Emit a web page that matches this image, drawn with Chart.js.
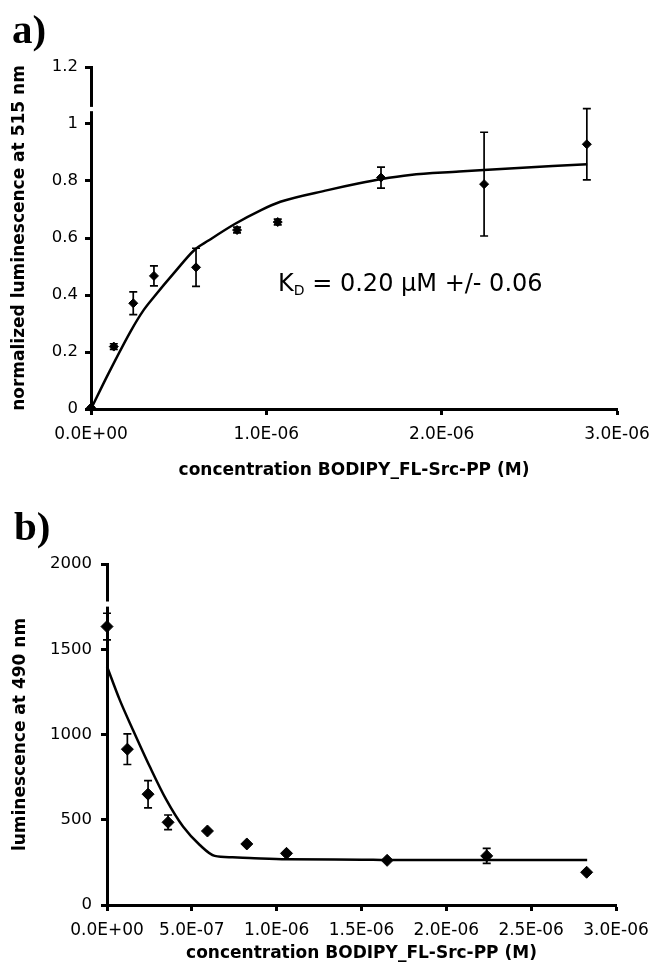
<!DOCTYPE html>
<html><head><meta charset="utf-8">
<script src="https://cdn.jsdelivr.net/npm/chart.js@4/dist/chart.umd.min.js"></script>
<style>
html,body{margin:0;padding:0;background:#fff;}
#wrap{position:relative;width:652px;height:971px;overflow:hidden;}
.pn{position:absolute;left:0;}
</style></head><body>
<div id="wrap">
<div class="pn" style="top:0"><canvas id="ca" width="652" height="485"></canvas></div>
<div class="pn" style="top:485px"><canvas id="cb" width="652" height="486"></canvas></div>
</div>
<script>
// ---------- Panel a data ----------
const concA = [0, 0.13e-6, 0.241e-6, 0.359e-6, 0.599e-6, 0.833e-6, 1.065e-6, 1.654e-6, 2.242e-6, 2.828e-6];
const lumA  = [0.005, 0.219, 0.371, 0.467, 0.497, 0.628, 0.656, 0.812, 0.789, 0.929];
const errA  = [0, 0.01, 0.04, 0.035, 0.067, 0.01, 0.01, 0.037, 0.182, 0.125];
const fitXA = [0, 0.10e-6, 0.23e-6, 0.30e-6, 0.36e-6, 0.48e-6, 0.59e-6, 0.67e-6, 0.82e-6, 0.97e-6, 1.08e-6, 1.35e-6, 1.53e-6, 1.65e-6, 1.82e-6, 2.10e-6, 2.24e-6, 2.83e-6];
const fitYA = [0, 0.125, 0.277, 0.347, 0.394, 0.482, 0.558, 0.591, 0.649, 0.698, 0.727, 0.768, 0.792, 0.806, 0.821, 0.833, 0.839, 0.859];
const xTicksA = [0, 1e-6, 2e-6, 3e-6];
const xTickLabelsA = ['0.0E+00', '1.0E-06', '2.0E-06', '3.0E-06'];
const yTicksA = [0, 0.2, 0.4, 0.6, 0.8, 1, 1.2];
const yTickLabelsA = ['0', '0.2', '0.4', '0.6', '0.8', '1', '1.2'];

// ---------- Panel b data ----------
const concB = [0, 0.12e-6, 0.242e-6, 0.36e-6, 0.592e-6, 0.824e-6, 1.058e-6, 1.651e-6, 2.238e-6, 2.827e-6];
const lumB  = [1633, 914, 650, 485, 434, 358, 303, 262, 288, 192];
const errB  = [78, 90, 80, 43, 0, 0, 0, 0, 44, 0];
const fitXB = [0, 0.075e-6, 0.153e-6, 0.252e-6, 0.35e-6, 0.448e-6, 0.547e-6, 0.635e-6, 0.74e-6, 0.84e-6, 1.06e-6, 1.5e-6, 1.65e-6, 2.24e-6, 2.83e-6];
const fitYB = [1399, 1203, 1027, 812, 616, 460, 352, 288, 280, 276, 268, 266, 264, 264, 264];
const xTicksB = [0, 0.5e-6, 1e-6, 1.5e-6, 2e-6, 2.5e-6, 3e-6];
const xTickLabelsB = ['0.0E+00', '5.0E-07', '1.0E-06', '1.5E-06', '2.0E-06', '2.5E-06', '3.0E-06'];
const yTicksB = [0, 500, 1000, 1500, 2000];
const yTickLabelsB = ['0', '500', '1000', '1500', '2000'];

const xTitle = 'concentration BODIPY_FL-Src-PP (M)';

const errorBarPlugin = {
  id: 'errbars',
  afterDatasetsDraw(chart, args, opts) {
    const {ctx, scales: {x, y}} = chart;
    ctx.save();
    ctx.strokeStyle = '#000';
    ctx.lineWidth = opts.lineWidth;
    const xs = opts.xs, ys = opts.ys, es = opts.errs;
    for (let i = 0; i < xs.length; i++) {
      if (!es[i]) continue;
      const px = x.getPixelForValue(xs[i]);
      const pt = y.getPixelForValue(ys[i] + es[i]);
      const pb = y.getPixelForValue(ys[i] - es[i]);
      const c = opts.cap;
      ctx.beginPath();
      ctx.moveTo(px, pt); ctx.lineTo(px, pb);
      ctx.moveTo(px - c, pt); ctx.lineTo(px + c, pt);
      ctx.moveTo(px - c, pb); ctx.lineTo(px + c, pb);
      ctx.stroke();
    }
    ctx.restore();
  }
};

const decorPlugin = {
  id: 'decor',
  afterDraw(chart, args, opts) {
    const {ctx, scales: {x, y}, chartArea} = chart;
    ctx.save();
    // axis break
    const y1 = y.getPixelForValue(opts.breakHi), y2 = y.getPixelForValue(opts.breakLo);
    ctx.fillStyle = '#fff';
    ctx.fillRect(chartArea.left - 4, y1, 8, y2 - y1);
    // panel label
    ctx.fillStyle = '#000';
    ctx.font = 'bold 41px "Liberation Serif"';
    ctx.textBaseline = 'alphabetic';
    ctx.textAlign = 'left';
    ctx.fillText(opts.label, opts.labelX, opts.labelY);
    // annotation
    if (opts.kd) {
      const ax = x.getPixelForValue(opts.kd.x), ay = y.getPixelForValue(opts.kd.y);
      ctx.font = '24px "DejaVu Sans"';
      ctx.fillText('K', ax, ay);
      let w = ctx.measureText('K').width;
      ctx.font = '14px "DejaVu Sans"';
      ctx.fillText('D', ax + w, ay + 4);
      w += ctx.measureText('D').width;
      ctx.font = '24px "DejaVu Sans"';
      ctx.fillText(' = 0.20 \u00B5M +/- 0.06', ax + w, ay);
    }
    ctx.restore();
  }
};

const gridOpts = {display: true, drawOnChartArea: false, drawTicks: true, tickLength: 6, tickWidth: 3, tickColor: '#000', color: '#000'};
const borderOpts = {display: true, color: '#000', width: 3};

function makeChart(id, cfg) {
  return new Chart(document.getElementById(id), {
    type: 'scatter',
    data: {datasets: [
      {data: cfg.fitX.map((v, i) => ({x: v, y: cfg.fitY[i]})), showLine: true, borderColor: '#000', borderWidth: 2.5, pointRadius: 0, cubicInterpolationMode: 'monotone', clip: false},
      {data: cfg.xs.map((v, i) => ({x: v, y: cfg.ys[i]})), pointStyle: 'rectRot', pointRadius: cfg.r, backgroundColor: '#000', borderColor: '#000', borderWidth: 1, clip: false}
    ]},
    options: {
      responsive: false, animation: false,
      layout: {padding: cfg.pad},
      plugins: {legend: {display: false}, tooltip: {enabled: false},
        errbars: {xs: cfg.xs, ys: cfg.ys, errs: cfg.errs, cap: 4, lineWidth: 1.7},
        decor: cfg.decor},
      scales: {
        x: {
          type: 'linear', min: 0, max: 3e-6, position: 'bottom',
          afterBuildTicks: s => { s.ticks = cfg.xTicks.map(v => ({value: v})); },
          ticks: {callback: (v, i) => cfg.xLabels[i], font: {family: '"DejaVu Sans"', size: 17}, color: '#000', maxRotation: 0, autoSkip: false, padding: 9},
          grid: gridOpts, border: borderOpts,
          title: {display: true, text: xTitle, color: '#000', font: {family: '"DejaVu Sans"', size: 17, weight: 'bold'}, padding: {top: 0, bottom: cfg.xTitlePad}},
          afterFit: s => { s.height = cfg.xH; s.paddingLeft = 0; s.paddingRight = 0; }
        },
        y: {
          type: 'linear', min: cfg.yMin, max: cfg.yMax, position: 'left',
          afterBuildTicks: s => { s.ticks = cfg.yTicks.map(v => ({value: v})); },
          ticks: {callback: (v, i) => cfg.yLabels[i], font: {family: '"DejaVu Sans"', size: 16.5}, color: '#000', autoSkip: false, padding: cfg.yPad},
          grid: gridOpts, border: borderOpts,
          title: {display: true, text: cfg.yTitle, color: '#000', font: {family: '"DejaVu Sans"', size: 17, weight: 'bold'}, padding: {top: cfg.yTitlePad, bottom: 0}},
          afterFit: s => { s.width = cfg.yW; s.paddingTop = 0; s.paddingBottom = 0; }
        }
      }
    },
    plugins: [errorBarPlugin, decorPlugin]
  });
}

makeChart('ca', {
  xs: concA, ys: lumA, errs: errA, fitX: fitXA, fitY: fitYA, r: 4.5,
  xTicks: xTicksA, xLabels: xTickLabelsA, yTicks: yTicksA, yLabels: yTickLabelsA,
  yMin: 0, yMax: 1.2, yTitle: 'normalized luminescence at 515 nm',
  pad: {top: 67, right: 35, left: 0, bottom: 0}, xH: 76, yW: 91, xTitlePad: 4, yTitlePad: 9, yPad: 7,
  decor: {breakHi: 1.06, breakLo: 1.045, label: 'a)', labelX: 12, labelY: 43, kd: {x: 1.067e-6, y: 0.415}}
});

makeChart('cb', {
  xs: concB, ys: lumB, errs: errB, fitX: fitXB, fitY: fitYB, r: 6,
  xTicks: xTicksB, xLabels: xTickLabelsB, yTicks: yTicksB, yLabels: yTickLabelsB,
  yMin: 0, yMax: 2000, yTitle: 'luminescence at 490 nm',
  pad: {top: 79, right: 36, left: 0, bottom: 0}, xH: 66, yW: 107, xTitlePad: 7, yTitlePad: 10, yPad: 9,
  decor: {breakHi: 1780, breakLo: 1750, label: 'b)', labelX: 14, labelY: 55}
});
</script>
</body></html>
